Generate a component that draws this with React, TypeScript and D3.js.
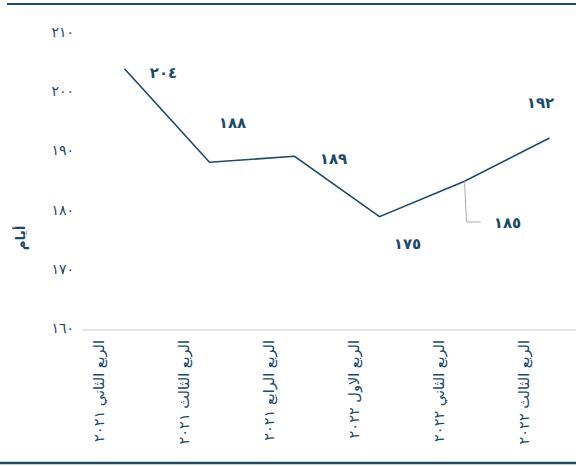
import React from "react";
import * as d3 from "d3";

const categories = [
  "الربع الثاني ٢٠٢١",
  "الربع الثالث ٢٠٢١",
  "الربع الرابع ٢٠٢١",
  "الربع الاول ٢٠٢٢",
  "الربع الثاني ٢٠٢٢",
  "الربع الثالث ٢٠٢٢",
];
const values = [203.8, 188, 189, 178.8, 184.8, 192.1];
const valueLabels = [204, 188, 189, 175, 185, 192];
const yTicks = [160, 170, 180, 190, 200, 210];
const yTitle = "أيام";

// label placement offsets (layout, not data)
const labelOffsets: [number, number][] = [
  [39, 4],
  [23, -39],
  [39, 2],
  [28, 27],
  [43, 42],
  [-9, -35],
];

const W = 576;
const H = 466;
const navy = "#1b4a6b";
const toAr = (n: number | string) =>
  String(n).replace(/[0-9]/g, (d) => "٠١٢٣٤٥٦٧٨٩"[+d]);

export default function App() {
  const x = d3.scaleBand<string>().domain(categories).range([82, 592]);
  const y = d3.scaleLinear().domain([160, 210]).range([328, 32]);
  const cx = (c: string) => (x(c) as number) + x.bandwidth() / 2;
  const line = d3
    .line<number>()
    .x((_, i) => cx(categories[i]))
    .y((d) => y(d));
  const font = "'DejaVu Sans', sans-serif";
  const p4 = [cx(categories[4]), y(values[4])];
  return (
    <svg
      width={W}
      height={H}
      style={{ position: "absolute", left: 0, top: 0 }}
      fontFamily={font}
    >
      <rect width={W} height={H} fill="#fff" />
      <line x1={7} x2={W} y1={4} y2={4} stroke={navy} strokeWidth={2} />
      <line x1={0} x2={W} y1={463} y2={463} stroke={navy} strokeWidth={2.5} />
      {yTicks.map((t) => (
        <text
          key={t}
          x={74}
          y={y(t)}
          dy="0.35em"
          textAnchor="end"
          fontSize={14}
          fill={navy}
        >
          {toAr(t)}
        </text>
      ))}
      <line x1={82} x2={W} y1={330} y2={330} stroke="#dcdcdc" strokeWidth={1.5} />
      <text
        transform={`translate(20,238) rotate(-90)`}
        textAnchor="middle"
        dy="0.35em"
        fontSize={13.5}
        fontWeight="bold"
        fill={navy}
      >
        {yTitle}
      </text>
      {categories.map((c) => (
        <text
          key={c}
          transform={`translate(${cx(c) - 26},340) rotate(-90)`}
          textAnchor="end"
          dy="0.35em"
          fontSize={14.5}
          fill={navy}
        >
          {c}
        </text>
      ))}
      <path d={line(values) || ""} fill="none" stroke={navy} strokeWidth={1.6} />
      <polyline
        points={`${p4[0]},${p4[1]} ${p4[0] + 2},222 ${p4[0] + 16},222`}
        fill="none"
        stroke="#aaa"
        strokeWidth={1}
      />
      {valueLabels.map((v, i) => (
        <text
          key={i}
          x={cx(categories[i]) + labelOffsets[i][0]}
          y={y(values[i]) + labelOffsets[i][1]}
          dy="0.35em"
          textAnchor="middle"
          fontSize={15}
          fontWeight="bold"
          fill={navy}
        >
          {toAr(v)}
        </text>
      ))}
    </svg>
  );
}
